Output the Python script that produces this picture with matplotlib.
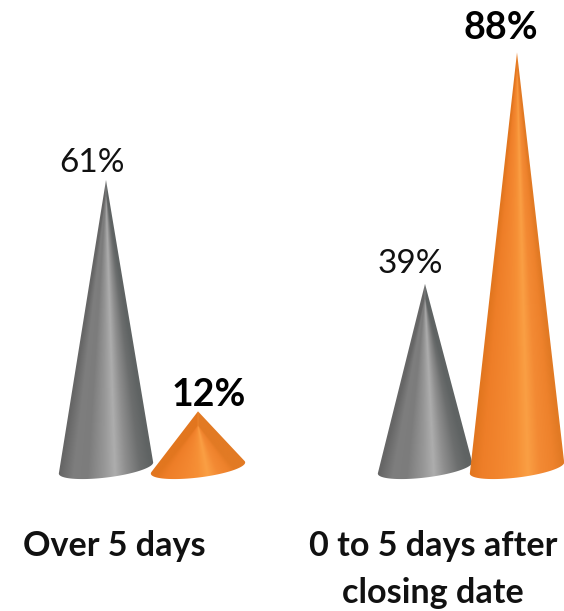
import numpy as np
import matplotlib
matplotlib.use("Agg")
import matplotlib.pyplot as plt
from matplotlib.colors import LinearSegmentedColormap
from matplotlib.patches import Polygon

categories = ["Over 5 days", "0 to 5 days after\nclosing date"]
grey_values = [61, 39]
orange_values = [12, 88]

WIDTH, HEIGHT, DPI = 564, 611, 100
PX_PER_CATEGORY = 319.0
PX_PER_PERCENT = 4.722
SERIES_OFFSET_PX = 46.0
BASE_A, BASE_B, BASE_TILT = 47.5, 9.5, np.radians(7)

grey_cmap = LinearSegmentedColormap.from_list("grey_cone", [
    (0.0, "#666666"), (0.15, "#7e7e7e"), (0.3, "#7c7c7c"), (0.48, "#979797"),
    (0.6, "#adadad"), (0.72, "#8e8e8e"), (0.88, "#6c6e6e"), (1.0, "#5f6363")])
orange_cmap = LinearSegmentedColormap.from_list("orange_cone", [
    (0.0, "#e2761f"), (0.12, "#ee7e28"), (0.35, "#f38730"), (0.5, "#f69036"),
    (0.62, "#fa9f44"), (0.75, "#f38a34"), (0.9, "#ee822c"), (1.0, "#e27a24")])

fig = plt.figure(figsize=(WIDTH / DPI, HEIGHT / DPI), dpi=DPI, facecolor="white")
ax = fig.add_axes([0, 0, 1, 1])
# Category 0 sits at pixel x=152, the 0% level at pixel y=468 from the top.
XLIM = (-152 / PX_PER_CATEGORY, (WIDTH - 152) / PX_PER_CATEGORY)
YLIM = (-(HEIGHT - 468) / PX_PER_PERCENT, 468 / PX_PER_PERCENT)
ax.axis("off")


def draw_cone(x, value, cmap, order):
    """Shaded cone: an angular gradient image clipped to the cone's silhouette."""
    ts = np.linspace(0, 2 * np.pi, 721)[:-1]
    dx = BASE_A * np.cos(ts) * np.cos(BASE_TILT) - BASE_B * np.sin(ts) * np.sin(BASE_TILT)
    dy = BASE_A * np.cos(ts) * np.sin(BASE_TILT) + BASE_B * np.sin(ts) * np.cos(BASE_TILT)
    height_px = value * PX_PER_PERCENT

    # Tangent points seen from the apex bound the visible part of the base rim.
    slopes = np.arctan2(dx, height_px - dy)
    right, left = int(np.argmax(slopes)), int(np.argmin(slopes))
    rim = [(left + k) % 720 for k in range((right - left) % 720 + 1)]
    outline = [(x, value)] + [(x + dx[k] / PX_PER_CATEGORY, dy[k] / PX_PER_PERCENT) for k in rim]
    clip = Polygon(outline, closed=True, transform=ax.transData)

    # Half-pixel grid; the shade depends only on the ray through the apex.
    x0, x1 = x - 55 / PX_PER_CATEGORY, x + 55 / PX_PER_CATEGORY
    y0, y1 = -14 / PX_PER_PERCENT, value
    gx = np.linspace(-55, 55, 221)
    gy = np.linspace(height_px + 14, 0, int(height_px + 14) * 2 + 1)
    px, py = np.meshgrid(gx, gy)
    fraction = np.maximum((height_px - py) / height_px, 1e-3)
    shade = np.clip(0.5 + px / (2 * BASE_A * fraction), 0, 1)
    image = ax.imshow(cmap(shade), extent=(x0, x1, y0, y1), origin="upper",
                      aspect="auto", interpolation="bilinear", zorder=order)
    image.set_clip_path(clip)


offset = SERIES_OFFSET_PX / PX_PER_CATEGORY
for i, value in enumerate(grey_values):
    draw_cone(i - offset, value, grey_cmap, 2)
for i, value in enumerate(orange_values):
    draw_cone(i + offset, value, orange_cmap, 3)
ax.set_xlim(*XLIM)
ax.set_ylim(*YLIM)

FONT = "Lato"
grey_label_shift = [(-14, 17), (-15, 20)]
orange_label_shift = [(11, 16), (-16, 24)]
for i, value in enumerate(grey_values):
    ax.annotate(f"{value}%", (i - offset, value), xytext=grey_label_shift[i],
                textcoords="offset pixels", ha="center", va="center",
                fontsize=24, family=FONT, color="#111111", zorder=5)
for i, value in enumerate(orange_values):
    ax.annotate(f"{value}%", (i + offset, value), xytext=orange_label_shift[i],
                textcoords="offset pixels", ha="center", va="center",
                fontsize=27, family=FONT, fontweight="bold", color="black", zorder=5)

for i, name in enumerate(categories):
    ax.annotate(name, (i, 0), xytext=(-38, -62), textcoords="offset pixels",
                ha="center", va="top", fontsize=24.6, family=FONT, fontweight="bold",
                color="#111111", linespacing=1.57, zorder=5)

fig.savefig("out.png", dpi=DPI, facecolor="white")
